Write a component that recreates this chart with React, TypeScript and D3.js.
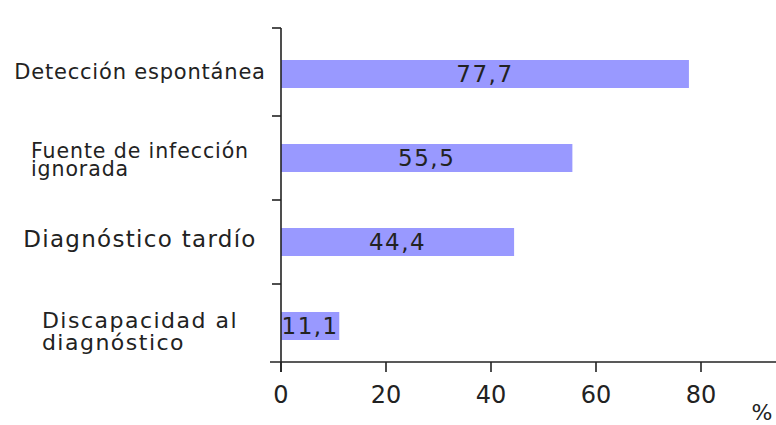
import React, { useRef, useEffect } from "react";
import { select, scaleLinear, scaleBand } from "d3";

const categories = [
  "Detección espontánea",
  "Fuente de infección\nignorada",
  "Diagnóstico tardío",
  "Discapacidad al\ndiagnóstico",
];
const values = [77.7, 55.5, 44.4, 11.1];
const valueLabels = ["77,7", "55,5", "44,4", "11,1"];
const xTicks = [0, 20, 40, 60, 80];
const unitLabel = "%";

// per-label text style (the source image draws them at slightly different sizes)
const labelSizes = [21, 20.5, 23, 22];
const labelSpacing = [0.8, 0.9, 1.3, 1.5];
const lineHeights = [0, 18, 0, 22];
const firstBaseline = [5, 0, 5, 2];
const FONT = "'DejaVu Sans', Verdana, sans-serif";

function App() {
  const svgRef = useRef(null);

  useEffect(() => {
    const svg = select(svgRef.current);
    svg.selectAll("*").remove();

    const width = 776;
    const height = 425;
    const axisY = 362;
    const axisX = 281;

    const x = scaleLinear().domain([0, 100]).range([axisX, axisX + 525]);
    const y = scaleBand().domain(categories).range([32, 368]).padding(0);
    const barH = 28;

    svg.attr("width", width).attr("height", height);

    // bars
    svg
      .selectAll(".bar")
      .data(values)
      .join("rect")
      .attr("class", "bar")
      .attr("x", x(0))
      .attr("y", (d, i) => y(categories[i]) + y.bandwidth() / 2 - barH / 2)
      .attr("width", (d) => x(d) - x(0))
      .attr("height", barH)
      .attr("fill", "#9999ff");

    // value labels
    svg
      .selectAll(".val")
      .data(values)
      .join("text")
      .attr("class", "val")
      .attr("x", (d) => (x(0) + x(d)) / 2)
      .attr("y", (d, i) => y(categories[i]) + y.bandwidth() / 2 + 8)
      .attr("text-anchor", "middle")
      .attr("font-family", FONT)
      .attr("font-size", 23)
      .attr("letter-spacing", 1.5)
      .attr("fill", "#222")
      .text((d, i) => valueLabels[i]);

    // y axis
    const axis = svg.append("g").attr("stroke", "#222").attr("stroke-width", 1.6);
    axis.append("line").attr("x1", axisX).attr("x2", axisX).attr("y1", 28).attr("y2", axisY + 10);
    axis.append("line").attr("x1", axisX - 9).attr("x2", axisX).attr("y1", 28).attr("y2", 28);
    categories.slice(1).forEach((c) => {
      axis
        .append("line")
        .attr("x1", axisX - 9)
        .attr("x2", axisX)
        .attr("y1", y(c))
        .attr("y2", y(c));
    });

    // x axis
    axis.append("line").attr("x1", axisX - 11).attr("x2", width).attr("y1", axisY).attr("y2", axisY);
    xTicks.forEach((t) => {
      axis.append("line").attr("x1", x(t)).attr("x2", x(t)).attr("y1", axisY).attr("y2", axisY + 10);
    });
    svg
      .selectAll(".xt")
      .data(xTicks)
      .join("text")
      .attr("class", "xt")
      .attr("x", (d) => x(d))
      .attr("y", 403)
      .attr("text-anchor", "middle")
      .attr("font-family", FONT)
      .attr("font-size", 24)
      .attr("fill", "#222")
      .text((d) => d);
    svg
      .append("text")
      .attr("x", 762)
      .attr("y", 420)
      .attr("text-anchor", "middle")
      .attr("font-family", FONT)
      .attr("font-size", 22)
      .attr("fill", "#222")
      .text(unitLabel);

    // category labels: one text per label, lines as tspans,
    // first line centred, later lines left-aligned with it
    categories.forEach((c, i) => {
      const lines = c.split("\n");
      const cy = y(c) + y.bandwidth() / 2 + firstBaseline[i];
      const t = svg
        .append("text")
        .attr("y", cy)
        .attr("font-family", FONT)
        .attr("font-size", labelSizes[i])
        .attr("letter-spacing", labelSpacing[i])
        .attr("fill", "#222");
      const first = t.append("tspan").attr("y", cy).text(lines[0]);
      const w = first.node().getComputedTextLength();
      const left = 140 - w / 2;
      first.attr("x", left);
      lines.slice(1).forEach((ln, k) => {
        t.append("tspan")
          .attr("x", left)
          .attr("y", cy + lineHeights[i] * (k + 1))
          .text(ln);
      });
    });
  }, []);

  return (
    <svg
      ref={svgRef}
      style={{ position: "absolute", left: 0, top: 0, background: "#fff" }}
    />
  );
}

export default App;
